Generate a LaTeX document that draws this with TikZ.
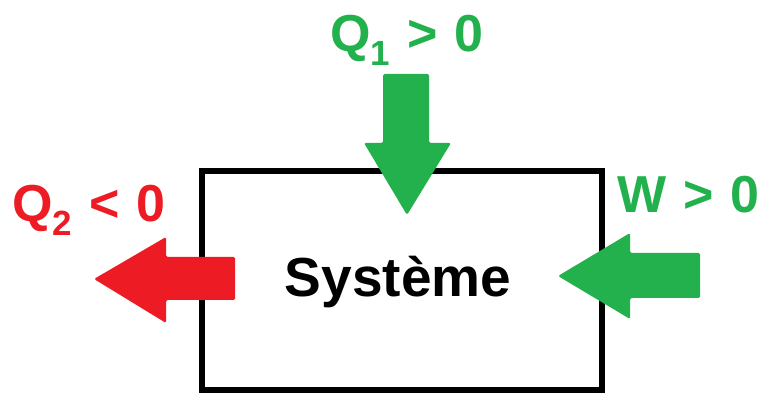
\documentclass[tikz,border=0pt]{standalone}
\usepackage{fontspec}
\setmainfont{Liberation Sans}
\usetikzlibrary{positioning,calc}

\definecolor{paintgreen}{RGB}{34,177,76}
\definecolor{paintred}{RGB}{237,28,36}

% lowered small index, as in Q_1
\newcommand{\lowidx}[1]{\raisebox{-14pt}{\fontsize{35}{35}\selectfont #1}}
% wider word gap of the labels
\newcommand{\gap}{\hspace{17pt}}

\begin{document}
\begin{tikzpicture}[
  x=1pt, y=1pt,
  font=\bfseries,
  systembox/.style={draw=black, line width=6pt, line join=miter},
  bigarrow/.style={line join=round, rounded corners=1.5pt},
  label/.style={anchor=base west, inner sep=0pt, font=\fontsize{52}{52}\selectfont\bfseries}
]
\useasboundingbox (0,0) rectangle (761,394);

% ----- SYSTEM -----
\draw[systembox] (202,4) rectangle (602,223);
\node[anchor=base, inner sep=0pt, font=\fontsize{55}{55}\selectfont\bfseries] (sys) at (398,97) {Système};

% ----- HEAT IN (TOP) -----
\fill[paintgreen, bigarrow] (383,320) -- (429,320) -- (429,251) -- (451,251) -- (407,179) -- (364,251) -- (383,251) -- cycle;
\node[label, text=paintgreen] (q1) at (330,342) {Q\lowidx{1}\gap>\gap0};

% ----- HEAT OUT (LEFT) -----
\fill[paintred, bigarrow] (235,137) -- (166,137) -- (166,157) -- (94,115) -- (166,71) -- (166,94) -- (235,94) -- cycle;
\node[label, text=paintred] (q2) at (12,172) {Q\lowidx{2}\gap<\gap0};

% ----- WORK IN (RIGHT) -----
\fill[paintgreen, bigarrow] (700,141) -- (630,141) -- (630,161) -- (558,118) -- (630,75) -- (630,96) -- (700,96) -- cycle;
\node[label, text=paintgreen] (w) at (617,181) {W\gap>\gap0};

\end{tikzpicture}
\end{document}
